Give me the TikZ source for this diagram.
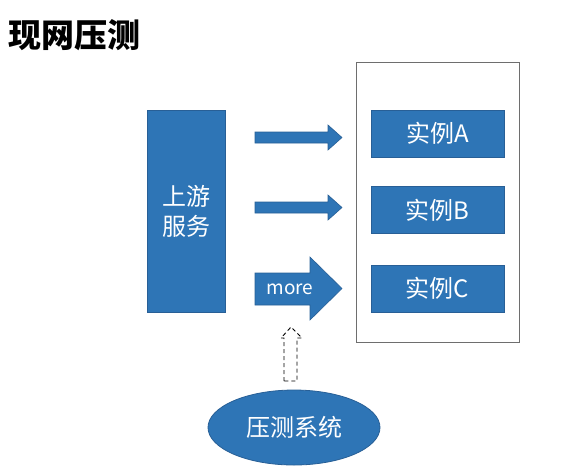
\documentclass[tikz,border=0pt]{standalone}
\usepackage{fontspec}
\setmainfont{Noto Sans CJK SC}
\usetikzlibrary{shapes.geometric}
\definecolor{pblue}{RGB}{46,117,182}
\definecolor{pedge}{RGB}{40,95,150}
\definecolor{pgray}{RGB}{110,110,110}
\tikzset{
  bluebox/.style={draw=pedge, line width=0.8pt, fill=pblue, text=white, inner sep=0pt, font=\fontsize{24}{30}\selectfont},
  blockarrow/.style={draw=pedge, line width=0.6pt, fill=pblue},
  dasharrow/.style={draw=black, line width=0.9pt, dash pattern=on 4pt off 3pt},
}
\begin{document}
\begin{tikzpicture}[x=1pt,y=-1pt]
\useasboundingbox (0,0) rectangle (588,467);
% title
\node[anchor=west, inner sep=0pt, font=\fontsize{33}{36}\selectfont\bfseries] (title) at (8,35.5) {现网压测};
% container
\node[draw=pgray, line width=1pt, minimum width=163pt, minimum height=280pt, inner sep=0pt] (cont) at (437.5,202.5) {};
% upstream
\node[bluebox, minimum width=78pt, minimum height=202pt, align=center] (up) at (186,211) {上游\\服务};
% instances
\node[bluebox, minimum width=133pt, minimum height=47pt] (ia) at (437.5,133.5) {实例A};
\node[bluebox, minimum width=133pt, minimum height=47pt] (ib) at (437.5,210) {实例B};
\node[bluebox, minimum width=133pt, minimum height=47pt] (ic) at (437.5,288.5) {实例C};
% arrows
\path[blockarrow] (255,132) -- (328,132) -- (328,125) -- (342,137.5) -- (328,150) -- (328,143) -- (255,143) -- cycle;
\path[blockarrow] (255,202) -- (328,202) -- (328,195) -- (342,207.5) -- (328,220) -- (328,213) -- (255,213) -- cycle;
\path[blockarrow] (255,273) -- (310,273) -- (310,257) -- (342,288.5) -- (310,320) -- (310,305) -- (255,305) -- cycle;
\node[text=white, inner sep=0pt, font=\fontsize{19}{22}\selectfont] (more) at (290,289) {more};
% load system
\node[ellipse, draw=pedge, line width=0.8pt, fill=pblue, text=white, minimum width=172pt, minimum height=75pt, inner sep=0pt, font=\fontsize{24}{28}\selectfont] (load) at (294,427.5) {压测系统};
% dashed arrow
\path[dasharrow] (284,381) -- (284,338) -- (281,338) -- (291,327) -- (302,338) -- (297,338) -- (297,381) -- cycle;
\end{tikzpicture}
\end{document}
